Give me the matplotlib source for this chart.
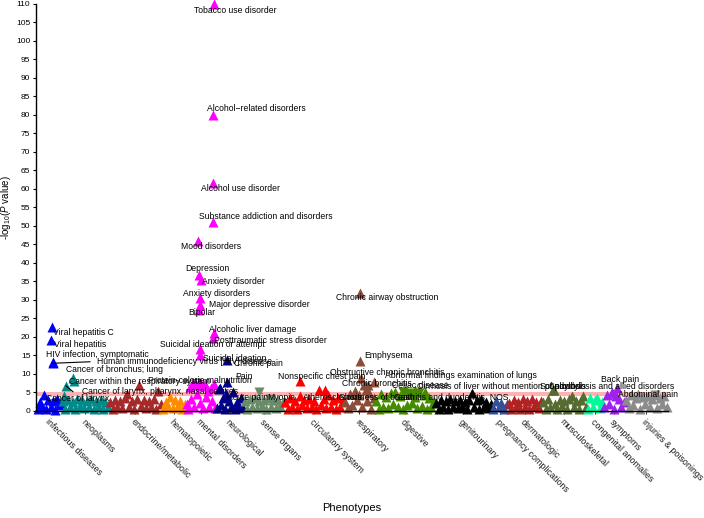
import matplotlib
matplotlib.use("Agg")
import matplotlib.pyplot as plt
import numpy as np

plt.rcParams['font.family'] = ['Liberation Sans', 'DejaVu Sans']
plt.rcParams['mathtext.fontset'] = 'custom'
plt.rcParams['mathtext.rm'] = 'Liberation Sans'
plt.rcParams['mathtext.it'] = 'Liberation Sans:italic'

# phenotype groups, in plotting order
groups = ["infectious diseases", "neoplasms", "endocrine/metabolic", "hematopoietic",
          "mental disorders", "neurological", "sense organs", "circulatory system",
          "respiratory", "digestive", "genitourinary", "pregnancy complications",
          "dermatologic", "musculoskeletal", "congenital anomalies", "symptoms",
          "injuries & poisonings"]
group_sizes = [25, 47, 53, 24, 30, 28, 40, 60, 31, 60, 57, 16, 34, 45, 16, 22, 43]
group_colors = ["#0000FF", "#008B8B", "#A52A2A", "#FF8C00", "#FF00FF", "#00008B",
                "#698B69", "#FF0000", "#8B4C39", "#458B00", "#000000", "#34509A",
                "#B22222", "#556B2F", "#00FA9A", "#A020F0", "#8B8B8B"]

# -log10(p) of the non-labelled phenotypes, per group
bg_infectious = [0.5, 2.4, 1.2, 4.2, 0.6, 3.0, 1.0, 2.7, 0.4, 3.3, 1.5, 2.2]
bg_neoplasms = [2.8, 0.6, 3.0, 1.2, 2.5, 0.5, 3.2, 1.4, 2.9, 0.8, 2.6, 1.0, 3.3, 0.6,
                2.7, 1.3, 3.0, 0.5, 2.4, 1.1]
bg_endocrine = [2.4, 0.6, 3.0, 1.2, 2.6, 0.8, 3.4, 4.5, 1.0, 2.8, 0.5, 3.2, 6.9, 1.4,
                3.0, 0.7, 2.6, 1.1, 3.3, 0.6, 5.5, 1.8]
bg_hemato = [0.6, 2.4, 1.2, 3.8, 0.8, 3.0, 1.4, 2.7, 0.5, 2.0]
bg_mental = [2.0, 0.6, 6.5, 3.2, 7.6, 1.0, 7.0, 4.5, 7.8, 2.2, 6.8, 0.8, 7.2, 3.8,
             5.5, 1.2, 6.2, 2.8, 7.4, 0.9]
bg_neuro = [0.8, 6.0, 1.5, 3.5, 0.6, 4.0, 2.8, 1.2, 5.0, 0.5, 2.5, 1.0, 3.6, 0.7]
bg_sense = [2.6, 0.6, 3.2, 1.2, 3.6, 0.8, 2.8, 1.4, 3.0, 0.5, 3.4, 1.0, 2.9, 0.7,
            3.1, 1.3, 2.5]
bg_circ = [2.4, 0.6, 3.5, 1.2, 2.8, 0.5, 4.0, 1.5, 3.0, 0.8, 3.3, 1.0, 2.6, 0.6,
           5.6, 1.6, 3.2, 0.7, 4.2, 1.1, 2.9, 0.5, 3.4, 1.2, 2.7]
bg_resp = [2.4, 0.8, 4.5, 1.5, 5.5, 3.0, 4.2, 1.2, 7.0, 2.6, 4.8, 0.6, 3.5]
bg_digest = [2.8, 0.6, 4.5, 1.2, 3.8, 0.8, 4.8, 2.0, 5.2, 1.0, 4.0, 0.6, 5.5, 1.5,
             4.6, 2.2, 3.8, 0.8, 5.0, 1.4, 4.2, 0.6, 3.4, 1.0, 2.6]
bg_genito = [2.2, 0.6, 3.0, 1.2, 2.6, 0.5, 3.3, 1.0, 2.8, 0.7, 3.1, 1.4, 2.4, 0.6,
             3.0, 4.8, 1.0, 2.9, 0.5, 3.2, 1.2, 2.5, 0.8, 2.0]
bg_preg = [0.6, 2.6, 1.2, 2.2, 0.5, 1.8]
bg_derm = [2.2, 0.6, 3.0, 1.2, 2.5, 0.5, 3.2, 1.0, 2.7, 0.6, 3.3, 1.4, 2.4, 0.8, 2.8]
bg_musc = [2.5, 0.6, 3.2, 1.2, 5.6, 2.0, 0.6, 3.0, 1.4, 2.6, 0.5, 3.3, 4.1, 1.0,
           2.8, 0.6, 3.0, 4.0, 1.2]
bg_cong = [0.6, 3.4, 1.2, 3.0, 3.6, 0.8, 2.5]
bg_symp = [1.0, 4.2, 2.0, 5.0, 0.6, 4.0, 3.2, 1.2, 2.5]
bg_inj = [3.0, 0.8, 4.2, 1.5, 3.5, 4.5, 0.6, 3.8, 2.0, 4.0, 1.0, 3.2, 4.4, 0.8,
          3.6, 2.0, 4.1, 1.2]
background = [bg_infectious, bg_neoplasms, bg_endocrine, bg_hemato, bg_mental,
              bg_neuro, bg_sense, bg_circ, bg_resp, bg_digest, bg_genito, bg_preg,
              bg_derm, bg_musc, bg_cong, bg_symp, bg_inj]

# background phenotypes with negative direction: group, index in group, -log10(p)
down_group = ["digestive", "digestive", "injuries & poisonings", "sense organs"]
down_idx = [34, 44, 30, 26]
down_p = [4.9, 4.8, 4.3, 3.3]

# labelled phenotypes
lab_text = ["Tobacco use disorder", "Alcohol\u2212related disorders", "Alcohol use disorder",
            "Substance addiction and disorders", "Mood disorders", "Depression",
            "Anxiety disorder", "Anxiety disorders", "Major depressive disorder", "Bipolar",
            "Alcoholic liver damage", "Posttraumatic stress disorder",
            "Suicidal ideation or attempt", "Suicidal ideation", "Chronic pain",
            "Chronic airway obstruction", "Viral hepatitis C", "Viral hepatitis",
            "HIV infection, symptomatic", "Human immunodeficiency virus [HIV] disease",
            "Cancer of bronchus; lung", "Cancer within the respiratory system",
            "Cancer of larynx, pharynx, nasal cavities", "Cancer of larynx",
            "Protein-calorie malnutrition", "Pain", "Acute pain", "Myopia",
            "Nonspecific chest pain", "Atherosclerosis", "Emphysema",
            "Obstructive chronic bronchitis", "Chronic bronchitis",
            "Abnormal findings examination of lungs", "Celiac disease",
            "Cirrhosis of liver without mention of alcohol", "Shortness of breath",
            "Gastritis and duodenitis, NOS", "Spondylosis",
            "Spondylosis and allied disorders", "Back pain", "Abdominal pain"]
lab_group = ["mental disorders"] * 14 + ["neurological", "respiratory"] + \
            ["infectious diseases"] * 4 + ["neoplasms"] * 4 + ["neurological"] * 3 + \
            ["sense organs", "circulatory system", "circulatory system"] + \
            ["respiratory"] * 4 + ["digestive", "digestive", "respiratory", "digestive",
                                   "musculoskeletal", "musculoskeletal", "symptoms", "symptoms"]
lab_idx = [28, 27, 27, 27, 12, 13, 15, 14, 14, 13, 28, 27, 14, 14, 11, 16,
           15, 14, 16, 16, 11, 12, 4, 2, 11, 4, 10, 15, 16, 41, 16, 17, 30, 24,
           28, 40, 22, 50, 11, 12, 14, 12]
lab_p = [110, 80, 61.5, 51, 46, 36.8, 35.5, 30.5, 28.7, 27.2, 21, 19.7, 16.8, 15.2,
         13.8, 32, 22.6, 19.3, 13.2, 12.9, 9.0, 8.0, 6.8, 4.0, 7.8, 6.2, 4.7, 5.0,
         8.0, 5.6, 13.6, 9.0, 7.7, 7.0, 5.2, 5.6, 5.8, 5.0, 5.8, 5.6, 6.2, 4.5]
lab_neg = ["Myopia", "Celiac disease"]

# text placement (x in phenotype order, y in -log10 p)
lab_xy = [(198, 108.3), (219, 81.8), (204, 60.1), (229, 52.6), (174, 44.4), (170, 38.5),
          (196, 35.0), (180, 31.8), (222, 28.8), (165, 26.5), (216, 22.0), (233, 19.0),
          (175, 18.0), (198, 14.3), (221, 12.8), (350, 30.7), (46, 21.2), (43, 18.0),
          (60, 15.3), (148, 13.4), (78, 11.2), (103, 8.0), (123, 5.3), (41, 3.4),
          (163, 8.2), (207, 9.3), (211, 3.6), (244, 3.6), (285, 9.3), (296, 3.6),
          (351, 15.0), (350, 10.4), (340, 7.4), (424, 9.6), (383, 6.9), (463, 6.6),
          (340, 3.6), (414, 3.6), (526, 6.6), (575, 6.6), (583, 8.5), (611, 4.5)]
seg_end = {"Human immunodeficiency virus [HIV] disease": (53, 13.3),
           "Cancer of larynx, pharynx, nasal cavities": (36, 5.2)}

threshold = 4.6

starts = np.concatenate([[0], np.cumsum(group_sizes)[:-1]])
start_of = dict(zip(groups, starts))
color_of = dict(zip(groups, group_colors))

fig = plt.figure(figsize=(7.04, 5.18), dpi=100)
ax = fig.add_axes([0.0511, 0.2066, 0.8977, 0.7857])

ax.axhline(threshold, color="#FF0000", alpha=0.3, lw=3, zorder=1)

ms = 7.5
for g, n, vals in zip(groups, group_sizes, background):
    xs = start_of[g] + (np.arange(len(vals)) + 0.5) * n / len(vals)
    ax.plot(xs, vals, "^", color=color_of[g], ms=ms, mec="none", clip_on=False, zorder=2)

for g, i, p in zip(down_group, down_idx, down_p):
    ax.plot(start_of[g] + i, p, "v", color=color_of[g], ms=ms, mec="none",
            clip_on=False, zorder=2)

for t, g, i, p, (tx, ty) in zip(lab_text, lab_group, lab_idx, lab_p, lab_xy):
    x = start_of[g] + i
    mk = "v" if t in lab_neg else "^"
    ax.plot(x, p, mk, color=color_of[g], ms=ms, mec="none", clip_on=False, zorder=3)
    if t in seg_end:
        ex, ey = seg_end[t]
        ax.plot([x, ex], [p, ey], color="black", lw=0.8, zorder=3)
    ax.text(tx, ty, t, fontsize=6.2, ha="center", va="center", color="black", zorder=4)

ax.set_xlim(-1, sum(group_sizes))
ax.set_ylim(0, 110)
ax.set_yticks(np.arange(0, 111, 5))
centers = starts + np.array(group_sizes) / 2
ax.set_xticks(centers)
ax.set_xticklabels(groups, rotation=-45, ha="left", va="top", rotation_mode="anchor",
                   fontsize=6.4, color="#1a1a1a")
ax.tick_params(axis="y", labelsize=6, length=2.5, width=0.8, pad=1.5, colors="black")
ax.tick_params(axis="x", length=2.5, width=0.6, pad=2)

for s in ["top", "right"]:
    ax.spines[s].set_visible(False)
ax.spines["left"].set_linewidth(1.0)
ax.spines["bottom"].set_linewidth(1.0)

ax.set_ylabel(r"-log$_{10}$($\mathit{P}$ value)", fontsize=7)
ax.yaxis.set_label_coords(-0.037, 0.5)
ax.set_xlabel("Phenotypes", fontsize=8)
ax.xaxis.set_label_coords(0.5, -0.225)

fig.savefig("out.png", dpi=100)
